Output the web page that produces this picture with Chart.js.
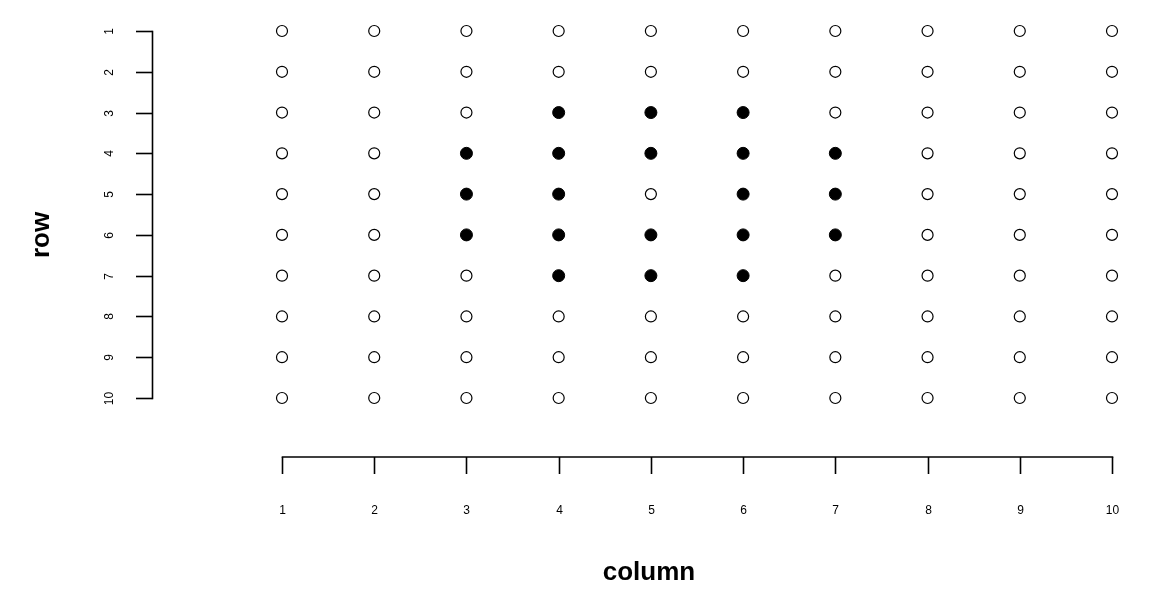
<!DOCTYPE html>
<html>
<head>
<meta charset="utf-8">
<title>row / column grid</title>
<script src="https://cdn.jsdelivr.net/npm/chart.js@4/dist/chart.umd.min.js"></script>
<style>
  html, body { margin: 0; padding: 0; background: #fff; }
  #wrap { width: 1162px; height: 599px; }
</style>
</head>
<body>
<div id="wrap"><canvas id="chart" width="1162" height="599"></canvas></div>
<script>
// grid of positions
const columns = [1, 2, 3, 4, 5, 6, 7, 8, 9, 10];
const rows = [1, 2, 3, 4, 5, 6, 7, 8, 9, 10];

// filled (solid) points, as row / column pairs
const filledRow = [3, 3, 3, 4, 4, 4, 4, 4, 5, 5, 5, 5, 6, 6, 6, 6, 6, 7, 7, 7];
const filledCol = [4, 5, 6, 3, 4, 5, 6, 7, 3, 4, 6, 7, 3, 4, 5, 6, 7, 4, 5, 6];

// tick labels
const xTickLabels = ['1', '2', '3', '4', '5', '6', '7', '8', '9', '10'];
const yTickLabels = ['1', '2', '3', '4', '5', '6', '7', '8', '9', '10'];

const xTitle = 'column';
const yTitle = 'row';

// build point lists
var solid = [];
var open = [];
rows.forEach(function (r) {
  columns.forEach(function (c) {
    var isFilled = false;
    for (var i = 0; i < filledRow.length; i++) {
      if (filledRow[i] === r && filledCol[i] === c) isFilled = true;
    }
    if (isFilled) solid.push({ x: c, y: r });
    else open.push({ x: c, y: r });
  });
});

const FONT = '"Liberation Sans", Arial, sans-serif';

// R-style detached axes, drawn from the chart's own scales
const rAxes = {
  id: 'rAxes',
  afterDraw: function (chart) {
    const ctx = chart.ctx;
    const xs = chart.scales.x;
    const ys = chart.scales.y;
    const yAxisX = 152.5;
    const xAxisY = 457;

    ctx.save();
    ctx.strokeStyle = '#000';
    ctx.lineWidth = 1.6;
    ctx.lineCap = 'square';
    ctx.fillStyle = '#000';

    // y axis
    const yTop = ys.getPixelForValue(rows[0]);
    const yBot = ys.getPixelForValue(rows[rows.length - 1]);
    ctx.beginPath();
    ctx.moveTo(yAxisX, Math.round(yTop) + 0.5);
    ctx.lineTo(yAxisX, Math.round(yBot) + 0.5);
    ctx.stroke();
    ctx.lineCap = 'butt';
    ctx.font = '12px ' + FONT;
    ctx.textAlign = 'center';
    ctx.textBaseline = 'middle';
    rows.forEach(function (r, i) {
      const py = Math.round(ys.getPixelForValue(r)) + 0.5;
      ctx.beginPath();
      ctx.moveTo(136, py);
      ctx.lineTo(yAxisX, py);
      ctx.stroke();
      ctx.save();
      ctx.translate(110, py);
      ctx.rotate(-Math.PI / 2);
      ctx.fillText(yTickLabels[i], 0, 0);
      ctx.restore();
    });

    // x axis
    const xL = xs.getPixelForValue(columns[0]);
    const xR = xs.getPixelForValue(columns[columns.length - 1]);
    ctx.lineCap = 'square';
    ctx.beginPath();
    ctx.moveTo(Math.round(xL) + 0.5, xAxisY);
    ctx.lineTo(Math.round(xR) + 0.5, xAxisY);
    ctx.stroke();
    ctx.lineCap = 'butt';
    columns.forEach(function (c, i) {
      const px = Math.round(xs.getPixelForValue(c)) + 0.5;
      ctx.beginPath();
      ctx.moveTo(px, xAxisY);
      ctx.lineTo(px, 474);
      ctx.stroke();
      ctx.fillText(xTickLabels[i], px, 511);
    });

    // titles
    ctx.font = 'bold 26px ' + FONT;
    ctx.fillText(xTitle, 649, 573);
    ctx.save();
    ctx.translate(42, 235);
    ctx.rotate(-Math.PI / 2);
    ctx.fillText(yTitle, 0, 0);
    ctx.restore();

    ctx.restore();
  }
};

new Chart(document.getElementById('chart'), {
  type: 'scatter',
  data: {
    datasets: [
      {
        label: 'open',
        data: open,
        pointStyle: 'circle',
        pointRadius: 5.5,
        pointBackgroundColor: '#fff',
        pointBorderColor: '#000',
        pointBorderWidth: 1.2,
        clip: false
      },
      {
        label: 'filled',
        data: solid,
        pointStyle: 'circle',
        pointRadius: 6,
        pointBackgroundColor: '#000',
        pointBorderColor: '#000',
        pointBorderWidth: 1,
        clip: false
      }
    ]
  },
  options: {
    responsive: false,
    animation: false,
    layout: { padding: { left: 282, right: 50, top: 31, bottom: 201 } },
    plugins: {
      legend: { display: false },
      tooltip: { enabled: false }
    },
    scales: {
      x: { type: 'linear', min: 1, max: 10, display: false },
      y: { type: 'linear', min: 1, max: 10, reverse: true, display: false }
    }
  },
  plugins: [rAxes]
});
</script>
</body>
</html>
